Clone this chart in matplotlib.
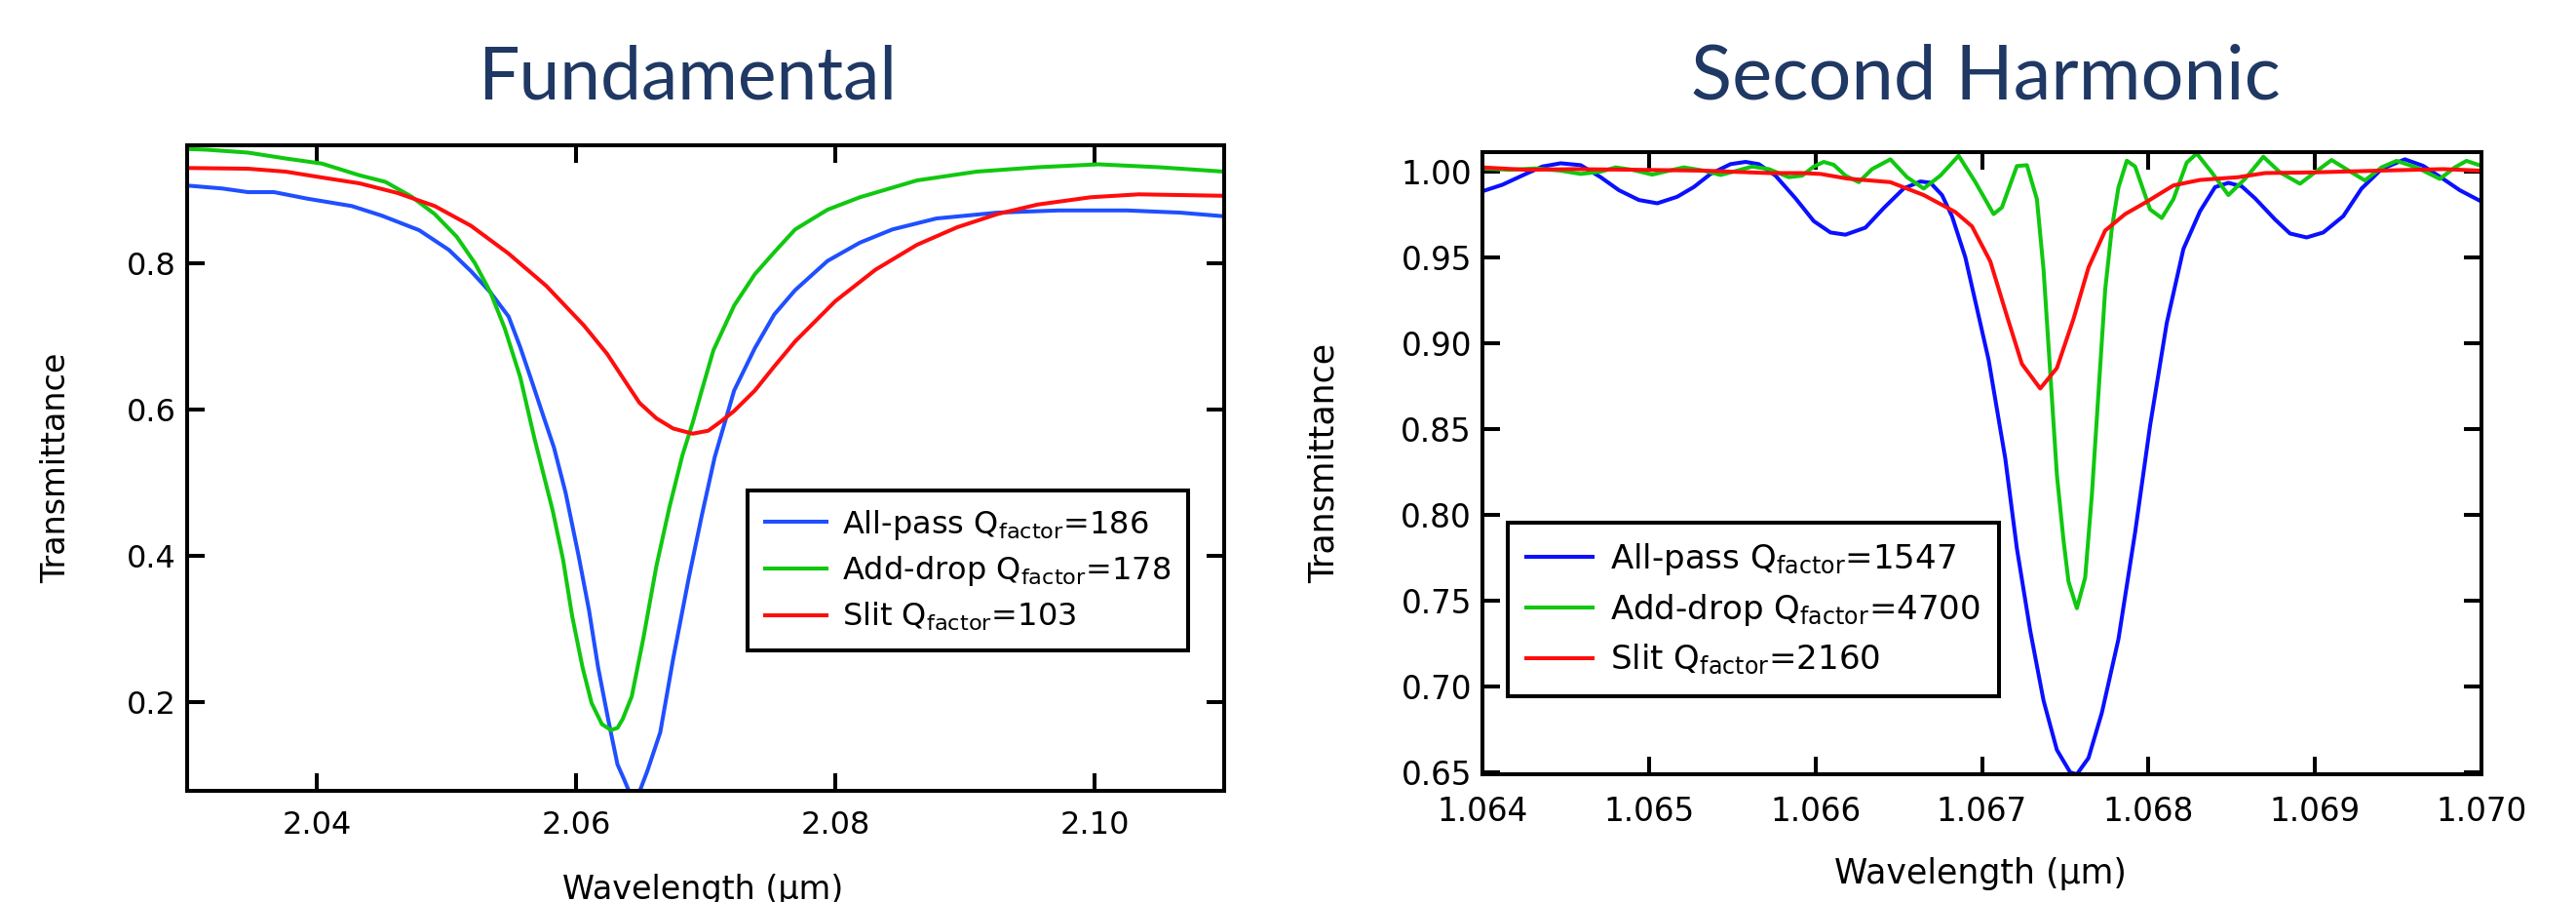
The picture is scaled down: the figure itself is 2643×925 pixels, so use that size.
import numpy as np
import matplotlib
matplotlib.use("Agg")
import matplotlib.pyplot as plt
from matplotlib.ticker import FormatStrFormatter

# ---- Fundamental (left panel) ----
fund_ap_wl = [2.0300, 2.0327, 2.0347, 2.0367, 2.0393, 2.0427, 2.0450, 2.0479, 2.0502, 2.0519,
              2.0534, 2.0548, 2.0557, 2.0566, 2.0575, 2.0583, 2.0592, 2.0602, 2.0610, 2.0617,
              2.0625, 2.0632, 2.0637, 2.0641, 2.0645, 2.0649, 2.0655, 2.0665, 2.0675, 2.0687,
              2.0697, 2.0707, 2.0722, 2.0738, 2.0753, 2.0769, 2.0794, 2.0819, 2.0844, 2.0878,
              2.0925, 2.0972, 2.1025, 2.1066, 2.1100]
fund_ap_T = [0.906, 0.902, 0.897, 0.897, 0.888, 0.878, 0.865, 0.845, 0.818, 0.789,
             0.760, 0.727, 0.685, 0.638, 0.590, 0.548, 0.486, 0.400, 0.326, 0.248,
             0.175, 0.115, 0.095, 0.078, 0.070, 0.078, 0.106, 0.159, 0.260, 0.370,
             0.455, 0.535, 0.626, 0.684, 0.730, 0.763, 0.803, 0.828, 0.846, 0.861,
             0.869, 0.872, 0.872, 0.869, 0.864]

fund_ad_wl = [2.0300, 2.0315, 2.0347, 2.0376, 2.0404, 2.0433, 2.0453, 2.0473, 2.0491, 2.0508,
              2.0522, 2.0534, 2.0545, 2.0557, 2.0568, 2.0582, 2.0590, 2.0597, 2.0605, 2.0612,
              2.0620, 2.0627, 2.0632, 2.0636, 2.0643, 2.0652, 2.0662, 2.0672, 2.0682, 2.0690,
              2.0697, 2.0706, 2.0722, 2.0738, 2.0753, 2.0769, 2.0794, 2.0819, 2.0863, 2.0909,
              2.0956, 2.1003, 2.1050, 2.1100]
fund_ad_T = [0.956, 0.955, 0.951, 0.943, 0.936, 0.920, 0.911, 0.891, 0.867, 0.836,
             0.800, 0.760, 0.711, 0.644, 0.560, 0.462, 0.395, 0.318, 0.248, 0.199,
             0.170, 0.162, 0.165, 0.177, 0.208, 0.288, 0.386, 0.466, 0.537, 0.582,
             0.626, 0.681, 0.742, 0.785, 0.815, 0.846, 0.873, 0.890, 0.913, 0.925,
             0.931, 0.935, 0.931, 0.925]

fund_sl_wl = [2.0300, 2.0347, 2.0376, 2.0404, 2.0433, 2.0462, 2.0491, 2.0519, 2.0548, 2.0577,
              2.0606, 2.0624, 2.0637, 2.0649, 2.0662, 2.0675, 2.0690, 2.0702, 2.0712, 2.0722,
              2.0738, 2.0753, 2.0769, 2.0800, 2.0831, 2.0863, 2.0894, 2.0925, 2.0956, 2.0997,
              2.1034, 2.1100]
fund_sl_T = [0.930, 0.929, 0.925, 0.917, 0.909, 0.896, 0.878, 0.851, 0.813, 0.769,
             0.715, 0.676, 0.641, 0.609, 0.588, 0.574, 0.567, 0.571, 0.584, 0.598,
             0.626, 0.659, 0.693, 0.748, 0.791, 0.825, 0.849, 0.867, 0.880, 0.890,
             0.894, 0.892]

# ---- Second harmonic (right panel) ----
sh_ap_wl = [1.06400, 1.06412, 1.06426, 1.06436, 1.06447, 1.06459, 1.06471, 1.06482, 1.06494, 1.06505,
            1.06517, 1.06527, 1.06537, 1.06549, 1.06558, 1.06566, 1.06576, 1.06588, 1.06599, 1.06609,
            1.06618, 1.06630, 1.06641, 1.06653, 1.06663, 1.06669, 1.06676, 1.06682, 1.06690, 1.06704,
            1.06714, 1.06721, 1.06729, 1.06737, 1.06745, 1.06753, 1.06757, 1.06764, 1.06772, 1.06782,
            1.06792, 1.06801, 1.06811, 1.06821, 1.06831, 1.06840, 1.06848, 1.06856, 1.06864, 1.06876,
            1.06885, 1.06895, 1.06905, 1.06917, 1.06928, 1.06940, 1.06954, 1.06965, 1.06977, 1.06987,
            1.07000]
sh_ap_T = [0.9886, 0.9924, 0.9987, 1.0030, 1.0049, 1.0038, 0.9968, 0.9892, 0.9835, 0.9816,
           0.9854, 0.9911, 0.9987, 1.0044, 1.0057, 1.0044, 0.9977, 0.9845, 0.9712, 0.9646,
           0.9633, 0.9674, 0.9788, 0.9902, 0.9943, 0.9936, 0.9864, 0.9741, 0.9502, 0.8904,
           0.8330, 0.7804, 0.7326, 0.6919, 0.6632, 0.6501, 0.6490, 0.6585, 0.6848, 0.7278,
           0.7900, 0.8522, 0.9119, 0.9550, 0.9770, 0.9910, 0.9935, 0.9915, 0.9845, 0.9722,
           0.9640, 0.9617, 0.9646, 0.9741, 0.9902, 1.0015, 1.0072, 1.0034, 0.9958, 0.9892,
           0.9826]

sh_ad_wl = [1.06400, 1.06416, 1.06432, 1.06447, 1.06459, 1.06471, 1.06480, 1.06490, 1.06502, 1.06512,
            1.06521, 1.06533, 1.06543, 1.06553, 1.06562, 1.06572, 1.06584, 1.06592, 1.06599, 1.06605,
            1.06611, 1.06618, 1.06626, 1.06634, 1.06645, 1.06655, 1.06665, 1.06675, 1.06686, 1.06696,
            1.06707, 1.06712, 1.06721, 1.06727, 1.06733, 1.06737, 1.06741, 1.06745, 1.06749, 1.06752,
            1.06757, 1.06762, 1.06766, 1.06770, 1.06774, 1.06778, 1.06782, 1.06787, 1.06792, 1.06801,
            1.06808, 1.06815, 1.06823, 1.06829, 1.06838, 1.06848, 1.06858, 1.06869, 1.06879, 1.06891,
            1.06900, 1.06910, 1.06922, 1.06930, 1.06940, 1.06949, 1.06961, 1.06975, 1.06984, 1.06991,
            1.07000]
sh_ad_T = [1.0019, 1.0011, 1.0019, 1.0006, 0.9987, 1.0000, 1.0025, 1.0011, 0.9983, 1.0006,
           1.0025, 1.0006, 0.9981, 1.0006, 1.0030, 1.0015, 0.9968, 0.9977, 1.0030, 1.0057,
           1.0040, 0.9977, 0.9939, 1.0015, 1.0072, 0.9968, 0.9902, 0.9977, 1.0093, 0.9940,
           0.9753, 0.9792, 1.0033, 1.0038, 0.9840, 0.9430, 0.8832, 0.8235, 0.7852, 0.7612,
           0.7457, 0.7636, 0.8115, 0.8713, 0.9311, 0.9669, 0.9909, 1.0064, 1.0030, 0.9780,
           0.9730, 0.9840, 1.0053, 1.0106, 0.9996, 0.9864, 0.9958, 1.0087, 0.9996, 0.9930,
           0.9996, 1.0068, 0.9996, 0.9949, 1.0025, 1.0063, 1.0025, 0.9958, 1.0025, 1.0063,
           1.0034]

sh_sl_wl = [1.06400, 1.06426, 1.06455, 1.06494, 1.06533, 1.06572, 1.06592, 1.06603, 1.06619, 1.06645,
            1.06665, 1.06684, 1.06694, 1.06705, 1.06714, 1.06724, 1.06735, 1.06745, 1.06755, 1.06764,
            1.06774, 1.06786, 1.06799, 1.06815, 1.06831, 1.06854, 1.06870, 1.06899, 1.06938, 1.06977,
            1.07000]
sh_sl_T = [1.0025, 1.0011, 1.0015, 1.0011, 1.0006, 0.9992, 0.9992, 0.9987, 0.9960, 0.9939,
           0.9864, 0.9765, 0.9682, 0.9478, 0.9191, 0.8880, 0.8737, 0.8856, 0.9143, 0.9442,
           0.9657, 0.9753, 0.9825, 0.9920, 0.9952, 0.9968, 0.9992, 0.9996, 1.0006, 1.0015,
           1.0006]

fund_labels = [r"All-pass Q$_{\mathrm{factor}}$=186",
               r"Add-drop Q$_{\mathrm{factor}}$=178",
               r"Slit Q$_{\mathrm{factor}}$=103"]
sh_labels = [r"All-pass Q$_{\mathrm{factor}}$=1547",
             r"Add-drop Q$_{\mathrm{factor}}$=4700",
             r"Slit Q$_{\mathrm{factor}}$=2160"]

fund_xticks = [2.04, 2.06, 2.08, 2.10]
fund_yticks = [0.2, 0.4, 0.6, 0.8]
sh_xticks = [1.064, 1.065, 1.066, 1.067, 1.068, 1.069, 1.070]
sh_yticks = [0.65, 0.70, 0.75, 0.80, 0.85, 0.90, 0.95, 1.00]

plt.rcParams['font.family'] = ['DejaVu Sans']
plt.rcParams['mathtext.fontset'] = 'dejavusans'

W, H = 2643, 925
fig = plt.figure(figsize=(W / 100, H / 100), dpi=100)

title_color = '#1F3864'
fig.text(705 / W, 1 - 101 / H, "Fundamental", fontsize=54, family='Lato',
         color=title_color, ha='center', va='baseline')
fig.text(2037 / W, 1 - 101 / H, "Second Harmonic", fontsize=56, family='Lato',
         color=title_color, ha='center', va='baseline')

def axes_px(l, t, r, b):
    return fig.add_axes([l / W, 1 - b / H, (r - l) / W, (b - t) / H])

ax1 = axes_px(192, 149, 1256, 811)
ax2 = axes_px(1521, 156, 2546, 794)

lw = 2.9
ax1.plot(fund_ap_wl, fund_ap_T, color='#1f4fff', lw=lw, label=fund_labels[0])
ax1.plot(fund_ad_wl, fund_ad_T, color='#10c810', lw=lw, label=fund_labels[1])
ax1.plot(fund_sl_wl, fund_sl_T, color='#ff0d0d', lw=lw, label=fund_labels[2])

ax2.plot(sh_ap_wl, sh_ap_T, color='#0a10ff', lw=lw, label=sh_labels[0])
ax2.plot(sh_ad_wl, sh_ad_T, color='#10c810', lw=lw, label=sh_labels[1])
ax2.plot(sh_sl_wl, sh_sl_T, color='#ff0d0d', lw=lw, label=sh_labels[2])

ax1.set_xlim(2.03, 2.11)
ax1.set_ylim(0.079, 0.961)
ax1.set_xticks(fund_xticks)
ax1.set_yticks(fund_yticks)
ax1.xaxis.set_major_formatter(FormatStrFormatter('%.2f'))
ax1.yaxis.set_major_formatter(FormatStrFormatter('%.1f'))

ax2.set_xlim(1.064, 1.070)
ax2.set_ylim(0.649, 1.0114)
ax2.set_xticks(sh_xticks)
ax2.set_yticks(sh_yticks)
ax2.xaxis.set_major_formatter(FormatStrFormatter('%.3f'))
ax2.yaxis.set_major_formatter(FormatStrFormatter('%.2f'))

for ax, fs, xpad in [(ax1, 23, 14.5), (ax2, 23.5, 16)]:
    for sp in ax.spines.values():
        sp.set_linewidth(2.9)
    ax.tick_params(direction='in', length=13, width=2.9, top=True, right=True,
                   labelsize=fs)
    ax.tick_params(axis='x', pad=xpad)
    ax.tick_params(axis='y', pad=8)

ax1.set_ylabel("Transmittance", fontsize=24)
ax1.yaxis.set_label_coords(-0.111, 0.5)
ax1.set_xlabel("Wavelength (µm)", fontsize=24)
ax1.xaxis.set_label_coords(0.497, -0.128)

ax2.set_ylabel("Transmittance", fontsize=25)
ax2.yaxis.set_label_coords(-0.142, 0.5)
ax2.set_xlabel("Wavelength (µm)", fontsize=25)
ax2.xaxis.set_label_coords(0.4985, -0.133)

leg1 = ax1.legend(loc='upper left', bbox_to_anchor=(0.5404, 0.4653), borderaxespad=0,
                  fancybox=False, edgecolor='black', framealpha=1, fontsize=23,
                  handlelength=2.0, handletextpad=0.5, labelspacing=0.40, borderpad=0.55)
leg1.get_frame().set_linewidth(2.9)

leg2 = ax2.legend(loc='upper left', bbox_to_anchor=(0.0254, 0.4044), borderaxespad=0,
                  fancybox=False, edgecolor='black', framealpha=1, fontsize=24.5,
                  handlelength=2.0, handletextpad=0.5, labelspacing=0.43, borderpad=0.57)
leg2.get_frame().set_linewidth(2.9)

fig.savefig("out.png", dpi=100)
